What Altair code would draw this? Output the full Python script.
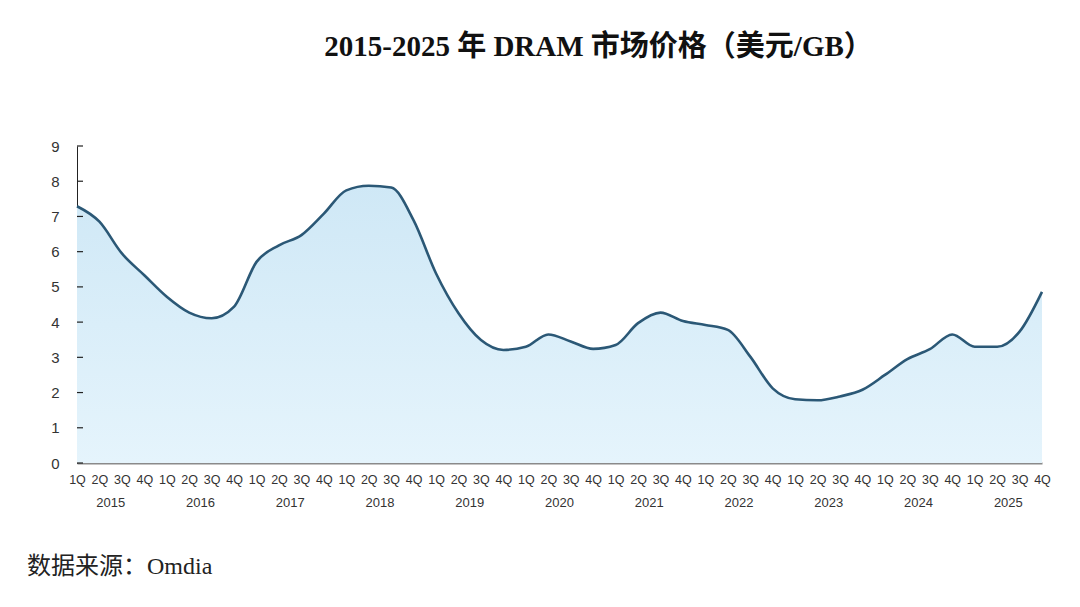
import altair as alt
import pandas as pd

quarters = ["1Q", "2Q", "3Q", "4Q"]
years = [2015, 2016, 2017, 2018, 2019, 2020, 2021, 2022, 2023, 2024, 2025]
prices = [
    7.29, 6.85, 5.95, 5.33,   # 2015
    4.72, 4.27, 4.11, 4.44,   # 2016
    5.71, 6.18, 6.47, 7.08,   # 2017
    7.74, 7.87, 7.82, 6.89,   # 2018
    5.38, 4.25, 3.49, 3.21,   # 2019
    3.30, 3.65, 3.45, 3.24,   # 2020
    3.35, 3.97, 4.27, 4.03,   # 2021
    3.92, 3.78, 3.02, 2.12,   # 2022
    1.81, 1.78, 1.89, 2.08,   # 2023
    2.50, 2.95, 3.23, 3.65,   # 2024
    3.30, 3.30, 3.73, 4.86,   # 2025
]
y_ticks = list(range(10))

title_text = "2015-2025 年 DRAM 市场价格（美元/GB）"
source_text = "数据来源：Omdia"

n = len(prices)
df = pd.DataFrame({
    "idx": list(range(n)),
    "price": prices,
    "quarter": [quarters[i % 4] for i in range(n)],
})
year_df = pd.DataFrame({"idx": [4 * k + 1.5 for k in range(len(years))],
                        "year": [str(y) for y in years]})
tick_df = pd.DataFrame({"price": y_ticks})
src_df = pd.DataFrame({"t": [source_text]})

W, H = 965, 317
serif = "Liberation Serif, Noto Sans CJK SC, serif"
sans = "Liberation Sans, Arial, sans-serif"

xscale = alt.Scale(domain=[0, n - 1], nice=False, zero=False)
yscale = alt.Scale(domain=[0, 9], nice=False)

label_expr = "['1Q','2Q','3Q','4Q'][datum.value % 4]"

x_axis = alt.Axis(values=list(range(n)), labelExpr=label_expr, title=None,
                  grid=False, ticks=False, labelOverlap=False, labelFlush=False,
                  labelPadding=10, labelFontSize=12.5, labelColor="#333333",
                  labelFont=sans, domainColor="#8a8a8a", domainWidth=2)
y_axis = alt.Axis(values=y_ticks, title=None, grid=False, ticks=False,
                  labelOverlap=False, labelFlush=False,
                  labelPadding=18, labelFontSize=15, labelColor="#333333",
                  labelFont=sans, domainColor="#222222", domainWidth=1)

X = alt.X("idx:Q", scale=xscale, axis=x_axis)
Y = alt.Y("price:Q", scale=yscale, axis=y_axis)

base = alt.Chart(df)

area = base.mark_area(
    interpolate="monotone",
    color=alt.Gradient(
        gradient="linear",
        stops=[alt.GradientStop(color="#cfe8f6", offset=0),
               alt.GradientStop(color="#e5f4fc", offset=1)],
        x1=0, x2=0, y1=0, y2=1,
    ),
).encode(x=X, y=Y)

line = base.mark_line(interpolate="monotone", color="#2b5876", strokeWidth=2.6).encode(
    x=X, y=Y,
)

ticks = alt.Chart(tick_df).mark_rule(color="#222222", strokeWidth=1.2).encode(
    x=alt.value(0), x2=alt.value(6), y=Y,
)

year_labels = alt.Chart(year_df).mark_text(
    fontSize=13, color="#333333", font=sans, baseline="middle"
).encode(
    x=X, y=alt.value(H + 40), text="year:N",
)

source = alt.Chart(src_df).mark_text(
    fontSize=24, color="#222222", font=serif, align="left", baseline="middle"
).encode(
    x=alt.value(-50), y=alt.value(421), text="t:N",
)

chart = alt.layer(area, line, ticks, year_labels, source).properties(
    width=W, height=H,
    background="white",
    title=alt.TitleParams(text=title_text, font=serif, fontSize=29, fontWeight="bold",
                          color="#111111", anchor="middle", frame="group",
                          baseline="alphabetic", offset=54, dx=39),
    autosize=alt.AutoSizeParams(type="none"),
    padding={"left": 69, "top": 138, "right": 30, "bottom": 130},
).configure_view(strokeWidth=0)

chart.save("out.html", embed_options={"renderer": "svg", "actions": False})
